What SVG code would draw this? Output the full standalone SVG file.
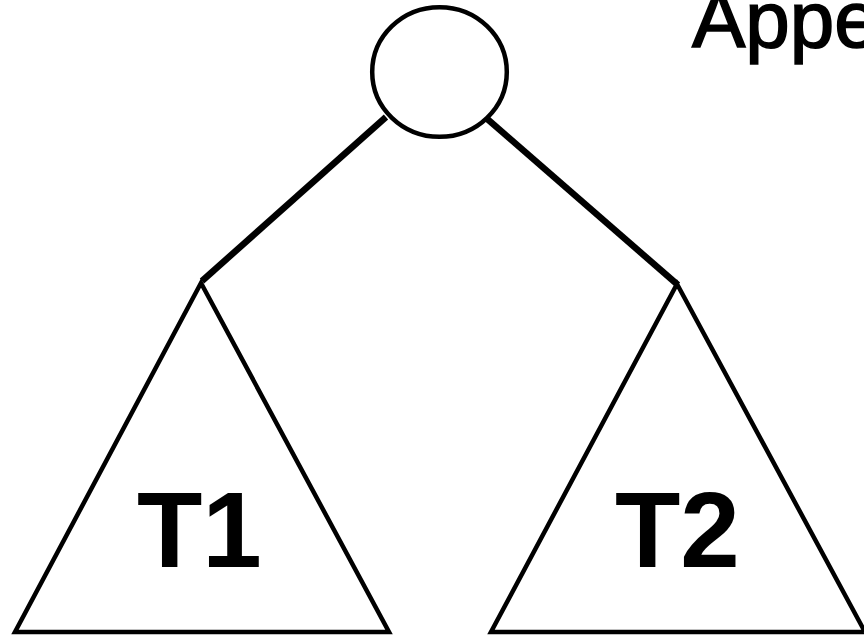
<svg xmlns="http://www.w3.org/2000/svg" width="864" height="638" viewBox="0 0 864 638">
  <style>
    .edge { stroke: #000; stroke-width: 6.5; stroke-linecap: butt; fill: none; }
    .shape { stroke: #000; stroke-width: 4.5; fill: #fff; stroke-linejoin: miter; }
    .label { font-family: "Liberation Sans", Arial, Helvetica, sans-serif; fill: #000; }
    .big { font-size: 107px; font-weight: bold; }
    .head { font-size: 80px; stroke: #000; stroke-width: 1.6; }
  </style>
  <rect width="864" height="638" fill="#fff"/>

  <!-- links from the root to the two subtrees -->
  <g id="connectors">
    <line class="edge" x1="386" y1="117" x2="202" y2="281"/>
    <line class="edge" x1="485" y1="117" x2="678" y2="285"/>
  </g>

  <!-- root node -->
  <g id="root">
    <ellipse class="shape" cx="439.5" cy="72" rx="67.3" ry="64.8"/>
  </g>

  <!-- left subtree -->
  <g id="subtree-t1">
    <polygon class="shape" points="201,283 389,632 15,632"/>
    <text class="label big" x="137" y="567">T1</text>
  </g>

  <!-- right subtree -->
  <g id="subtree-t2">
    <polygon class="shape" points="677,284 865,632 491,632"/>
    <text class="label big" x="615" y="567">T2</text>
  </g>

  <!-- heading, running off the right edge -->
  <g id="heading">
    <text class="label head" x="692" y="47">Appe</text>
  </g>
</svg>
